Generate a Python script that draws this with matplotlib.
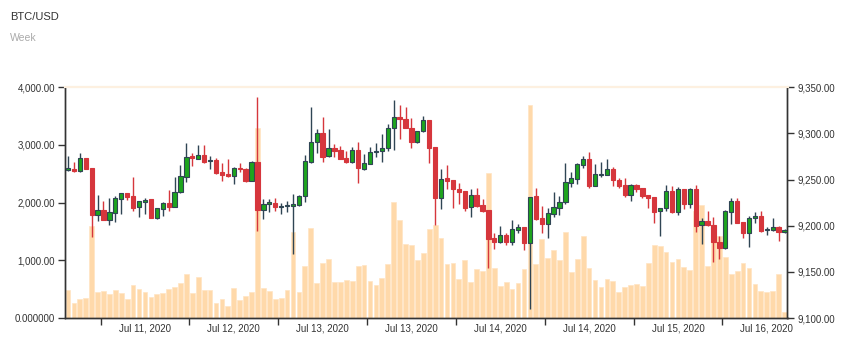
import matplotlib
matplotlib.use("Agg")
import matplotlib.pyplot as plt
from matplotlib.ticker import FixedLocator, FuncFormatter
import numpy as np

plt.rcParams['font.family'] = ['Liberation Sans', 'DejaVu Sans']

# BTC/USD candles (price, right axis) and volume (left axis)
opens = [9260.8, 9261.8, 9259.0, 9273.4, 9262.6, 9211.6, 9216.7, 9206.6, 9213.8, 9229.3,
         9235.8, 9231.9, 9220.0, 9225.4, 9228.6, 9208.7, 9218.5, 9225.0, 9220.3, 9236.9,
         9252.8, 9275.2, 9272.7, 9276.3, 9269.8, 9271.2, 9258.2, 9256.1, 9254.3, 9262.6,
         9261.5, 9248.5, 9269.1, 9217.1, 9223.2, 9224.6, 9220.3, 9221.0, 9221.7, 9222.1,
         9231.9, 9269.1, 9290.4, 9300.9, 9275.2, 9284.6, 9282.1, 9273.4, 9268.7, 9282.1,
         9261.8, 9267.3, 9279.9, 9281.0, 9283.9, 9305.5, 9317.8, 9316.0, 9306.3, 9290.4,
         9302.3, 9314.6, 9285.3, 9230.4, 9251.4, 9249.9, 9239.8, 9238.0, 9220.0, 9233.0,
         9222.8, 9216.7, 9186.7, 9182.8, 9189.6, 9182.8, 9195.7, 9198.3, 9181.7, 9231.9,
         9208.4, 9202.2, 9213.1, 9219.6, 9225.7, 9246.3, 9251.0, 9266.2, 9272.7, 9243.1,
         9255.0, 9255.3, 9261.8, 9249.9, 9244.1, 9233.3, 9244.1, 9240.9, 9233.3, 9230.8,
         9215.6, 9218.9, 9237.6, 9215.2, 9239.4, 9223.2, 9240.2, 9200.4, 9205.1, 9200.8,
         9182.8, 9175.5, 9215.2, 9227.2, 9204.0, 9192.5, 9208.0, 9210.6, 9195.0, 9195.0,
         9198.6, 9193.6]
highs = [9275.6, 9268.7, 9278.8, 9273.4, 9262.6, 9233.3, 9226.4, 9230.1, 9232.2, 9235.8,
         9235.8, 9252.8, 9226.4, 9230.4, 9228.6, 9218.9, 9225.4, 9238.4, 9252.4, 9265.8,
         9289.3, 9278.8, 9287.5, 9287.5, 9275.9, 9273.8, 9267.6, 9272.3, 9264.0, 9268.3,
         9262.2, 9270.1, 9339.1, 9229.0, 9229.0, 9229.7, 9224.3, 9227.2, 9234.4, 9233.3,
         9276.7, 9328.3, 9304.5, 9317.8, 9304.8, 9288.6, 9286.4, 9281.3, 9285.3, 9291.1,
         9277.7, 9285.3, 9289.3, 9299.0, 9309.9, 9335.9, 9330.8, 9328.7, 9316.7, 9302.7,
         9319.3, 9314.6, 9285.3, 9261.5, 9265.8, 9249.9, 9245.9, 9238.0, 9239.4, 9240.9,
         9229.3, 9216.7, 9192.1, 9199.4, 9192.5, 9206.2, 9201.5, 9198.3, 9231.5, 9240.5,
         9221.7, 9218.9, 9236.6, 9232.6, 9267.6, 9258.2, 9267.6, 9275.9, 9279.5, 9266.5,
         9268.7, 9272.0, 9264.0, 9251.4, 9251.4, 9244.9, 9244.9, 9240.9, 9233.3, 9231.5,
         9219.2, 9244.1, 9243.1, 9242.0, 9239.4, 9240.5, 9244.1, 9208.0, 9215.6, 9209.5,
         9189.2, 9216.7, 9229.7, 9230.4, 9204.0, 9210.6, 9214.9, 9216.3, 9198.3, 9208.0,
         9199.4, 9196.1]
lows = [9259.3, 9257.9, 9257.9, 9261.8, 9188.2, 9205.5, 9206.6, 9201.2, 9204.4, 9213.1,
        9227.5, 9216.0, 9209.8, 9212.4, 9208.7, 9207.7, 9210.9, 9216.3, 9220.3, 9235.8,
        9247.0, 9264.4, 9272.3, 9268.0, 9261.5, 9256.4, 9248.8, 9253.2, 9244.9, 9258.6,
        9247.0, 9248.1, 9194.7, 9206.9, 9215.2, 9216.3, 9212.4, 9215.2, 9169.4, 9221.7,
        9226.1, 9268.3, 9278.5, 9269.4, 9274.5, 9274.5, 9272.3, 9267.6, 9268.3, 9245.9,
        9260.8, 9266.5, 9274.5, 9269.4, 9281.0, 9281.7, 9293.6, 9305.5, 9284.6, 9290.0,
        9301.9, 9268.0, 9200.8, 9218.1, 9239.8, 9219.6, 9223.9, 9216.0, 9209.8, 9220.7,
        9215.2, 9154.6, 9175.2, 9181.7, 9179.1, 9179.1, 9192.5, 9173.3, 9109.8, 9206.2,
        9192.5, 9186.7, 9209.5, 9211.3, 9223.9, 9241.6, 9244.9, 9262.9, 9241.3, 9242.7,
        9252.8, 9255.0, 9243.4, 9240.5, 9230.8, 9226.8, 9236.2, 9229.7, 9219.6, 9203.0,
        9188.9, 9216.0, 9214.2, 9212.0, 9218.1, 9218.9, 9193.6, 9179.8, 9200.1, 9161.1,
        9164.0, 9174.8, 9201.5, 9203.3, 9186.4, 9177.0, 9203.0, 9193.6, 9190.0, 9194.7,
        9183.5, 9192.1]
closes = [9262.2, 9259.0, 9273.4, 9261.8, 9211.6, 9216.7, 9206.6, 9214.5, 9230.1, 9235.8,
          9231.1, 9219.6, 9226.4, 9228.2, 9208.7, 9218.9, 9224.3, 9220.3, 9236.9, 9253.5,
          9274.5, 9273.0, 9276.3, 9269.1, 9270.9, 9257.1, 9255.0, 9253.9, 9262.2, 9261.1,
          9248.8, 9269.4, 9217.1, 9223.6, 9225.4, 9220.3, 9221.4, 9222.5, 9223.2, 9232.2,
          9269.8, 9290.7, 9300.9, 9274.8, 9284.6, 9281.3, 9272.7, 9268.7, 9282.1, 9262.2,
          9267.6, 9280.3, 9281.0, 9284.2, 9305.9, 9317.5, 9316.0, 9305.5, 9290.4, 9302.7,
          9314.6, 9284.6, 9230.4, 9250.6, 9248.8, 9239.4, 9236.9, 9219.6, 9233.0, 9221.7,
          9216.0, 9186.0, 9182.8, 9189.6, 9182.0, 9196.5, 9198.6, 9181.7, 9231.5, 9206.9,
          9201.9, 9213.8, 9220.0, 9226.1, 9247.0, 9251.4, 9266.5, 9272.3, 9242.7, 9255.7,
          9256.1, 9261.8, 9249.2, 9243.1, 9233.3, 9244.1, 9240.2, 9232.2, 9229.7, 9215.2,
          9219.2, 9237.6, 9214.9, 9239.4, 9223.2, 9239.8, 9200.1, 9205.1, 9200.4, 9182.4,
          9175.5, 9216.0, 9227.2, 9203.3, 9192.5, 9208.0, 9210.6, 9194.3, 9196.1, 9198.6,
          9193.6, 9195.0]
volumes = [480, 254, 324, 341, 1595, 457, 468, 416, 491, 434,
           329, 572, 503, 445, 364, 416, 428, 509, 538, 607,
           757, 434, 705, 480, 480, 266, 335, 208, 526, 312,
           376, 451, 3289, 526, 462, 335, 347, 480, 1497, 451,
           896, 1566, 613, 954, 1029, 630, 618, 653, 636, 896,
           919, 647, 566, 688, 936, 2011, 1705, 1277, 1266, 1006,
           1127, 1537, 1610, 1387, 936, 954, 682, 1006, 624, 850,
           821, 2508, 867, 561, 624, 509, 613, 855, 3693, 936,
           1376, 1040, 1179, 1006, 1491, 798, 1017, 1422, 867, 653,
           538, 676, 636, 451, 532, 578, 595, 555, 954, 1260,
           1243, 1139, 965, 1023, 879, 832, 1855, 1959, 896, 1450,
           1428, 1052, 757, 815, 954, 861, 584, 468, 451, 462,
           763, 104]
date_labels = ["Jul 11, 2020", "Jul 12, 2020", "Jul 13, 2020", "Jul 13, 2020",
               "Jul 14, 2020", "Jul 14, 2020", "Jul 15, 2020", "Jul 16, 2020"]
vol_ticks = [0, 1000, 2000, 3000, 4000]
vol_tick_labels = ["0.000000", "1,000.00", "2,000.00", "3,000.00", "4,000.00"]

opens = np.array(opens)
highs = np.array(highs)
lows = np.array(lows)
closes = np.array(closes)
n = len(opens)
x = np.arange(n)
up = closes >= opens
dn = ~up
body_low = np.minimum(opens, closes)
body_h = np.abs(closes - opens)

green = '#1ea51e'
dark = '#2f4554'
red = '#d6363c'
text_col = '#333333'

fig = plt.figure(figsize=(8.54, 3.51), dpi=100)
ax = fig.add_axes([65 / 854, 1 - 318 / 351, (787.5 - 65) / 854, (318 - 87.3) / 351])
ax2 = ax.twinx()

# volume
ax.bar(x, volumes, width=0.8, color='#ffd9aa', edgecolor='#ffe4c4', linewidth=0.5, zorder=1)
ax.set_xlim(-0.5, n - 0.5)
ax.set_ylim(0, 4000)
ax.yaxis.set_major_locator(FixedLocator(vol_ticks))
ax.set_yticklabels(vol_tick_labels)

# candles
ax2.vlines(x[up], lows[up], highs[up], color=dark, linewidth=1.0, zorder=2)
ax2.vlines(x[dn], lows[dn], highs[dn], color=red, linewidth=1.0, zorder=2)
ax2.bar(x[up], body_h[up], bottom=body_low[up], width=0.72, color=green,
        edgecolor=dark, linewidth=0.8, zorder=3)
ax2.bar(x[dn], body_h[dn], bottom=body_low[dn], width=0.72, color=red,
        edgecolor=red, linewidth=0.8, zorder=3)
ax2.set_ylim(9100, 9350)
ax2.set_yticks(np.arange(9100, 9351, 50))
ax2.yaxis.set_major_formatter(FuncFormatter(lambda v, p: f"{v:,.2f}"))

# x axis: tick marks between groups, labels centred in each group
ax.set_xticks(np.arange(5.5, n, 15))
ax.set_xticklabels([])
ax.set_xticks(np.arange(13, n, 15)[:len(date_labels)], minor=True)
ax.set_xticklabels(date_labels, minor=True)
ax.tick_params(axis='x', which='major', length=5, width=1, color=text_col)
ax.tick_params(axis='x', which='minor', length=0, pad=4, labelsize=7, labelcolor=text_col)
ax.tick_params(axis='y', length=5, width=1, color=text_col, labelsize=7, labelcolor=text_col, pad=2)
ax2.tick_params(axis='y', length=5, width=1, color=text_col, labelsize=7, labelcolor=text_col, pad=2)

for a in (ax, ax2):
    a.spines['top'].set_color('#fdf0e0')
    a.spines['top'].set_linewidth(1.5)
    for s in ('left', 'right', 'bottom'):
        a.spines[s].set_color(text_col)
        a.spines[s].set_linewidth(1)
ax2.patch.set_visible(False)

fig.text(10 / 854, 1 - 17 / 351, "BTC/USD", fontsize=8, color=text_col, va='center')
fig.text(10 / 854, 1 - 38 / 351, "Week", fontsize=7.5, color='#aaaaaa', va='center')

fig.savefig("out.png", dpi=100)
